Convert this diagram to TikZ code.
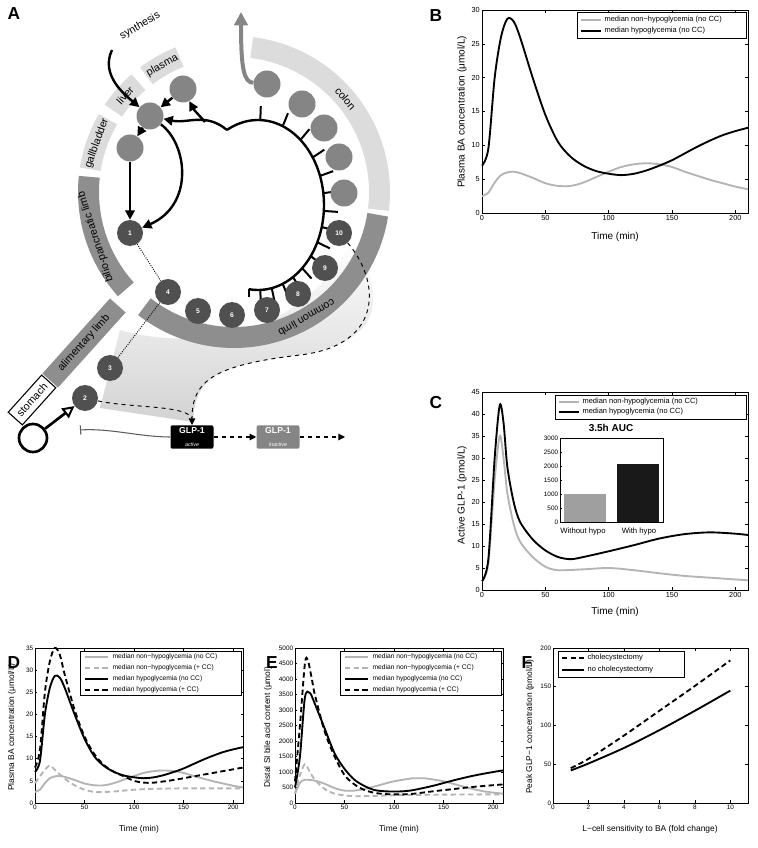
\documentclass[tikz,border=0pt]{standalone}
\usepackage{fontspec}
\setmainfont{Liberation Sans}
\usetikzlibrary{arrows.meta,calc,shapes.geometric}
\definecolor{lg}{HTML}{B4B4B4}
\definecolor{band}{HTML}{8E8E8E}
\definecolor{lband}{HTML}{DCDCDC}
\definecolor{dc}{HTML}{505050}
\definecolor{mc}{HTML}{858585}
\begin{document}
\begin{tikzpicture}[x=0.75pt,y=-0.75pt,
  tick/.style={font=\fontsize{5.5}{6}\selectfont,inner sep=1.5pt},
  stick/.style={font=\fontsize{4.8}{5}\selectfont,inner sep=1.2pt},
  axl/.style={font=\fontsize{7.5}{8}\selectfont},
  saxl/.style={font=\fontsize{6.3}{7}\selectfont},
  leg/.style={font=\fontsize{5.6}{6}\selectfont,anchor=west,inner sep=1pt},
  sleg/.style={font=\fontsize{5}{5.5}\selectfont,anchor=west,inner sep=1pt},
  hyp/.style={line width=1.4pt,black},
  non/.style={line width=1.4pt,lg},
  hypd/.style={line width=1.4pt,black,dash pattern=on 4pt off 2.5pt},
  nond/.style={line width=1.4pt,lg,dash pattern=on 4pt off 2.5pt},
  letter/.style={font=\fontsize{13}{14}\selectfont\bfseries},
  numc/.style={circle,fill=dc,minimum size=26*0.75pt,inner sep=0pt,text=white,font=\fontsize{5}{5}\selectfont\bfseries},
  lc/.style={circle,fill=mc,minimum size=27*0.75pt,inner sep=0pt},
  blk/.style={line width=1.8pt,black,-{Triangle[length=7pt,width=7pt]}},
  tri/.style={draw=none,fill=none,-{Triangle[length=6pt,width=6.5pt]},mc!80!black},
  bandl/.style={font=\fontsize{8}{9}\selectfont}]
\useasboundingbox (0,0) rectangle (757,848);

% ================= Panel A =================
\node[letter] (LA) at (14,14) {A};
% shaded fan
\shade[top color=white,bottom color=gray!35] (100,408) -- (120,330) .. controls (170,345) and (280,350) .. (340,260) -- (355,238) .. controls (385,300) and (385,340) .. (300,355) .. controls (220,365) and (195,375) .. (193,422) -- cycle;
% ring bands
\draw[line width=21*0.75pt,lband] plot[domain=-7:83,samples=60] ({234+145.5*cos(\x)},{192-145.5*sin(\x)});
\draw[line width=21*0.75pt,band] plot[domain=-128:-9,samples=60] ({234+145.5*cos(\x)},{192-145.5*sin(\x)});
\draw[line width=21*0.75pt,band] plot[domain=174:222,samples=30] ({234+145.5*cos(\x)},{192-145.5*sin(\x)});
\draw[line width=21*0.75pt,lband] plot[domain=150:171,samples=20] ({234+145.5*cos(\x)},{192-145.5*sin(\x)});
\draw[line width=21*0.75pt,lband] plot[domain=131:146,samples=20] ({234+145.5*cos(\x)},{192-145.5*sin(\x)});
\draw[line width=21*0.75pt,lband] plot[domain=112:127,samples=20] ({234+145.5*cos(\x)},{192-145.5*sin(\x)});
\node[bandl,rotate=-50] (tcolon) at ({234+145.5*cos(40)},{192-145.5*sin(40)}) {colon};
\node[bandl,rotate=-150] (tcommon) at ({234+145.5*cos(-60)},{192-145.5*sin(-60)}) {common limb};
\node[bandl,rotate=108] (tbilio) at ({234+145.5*cos(198)},{192-145.5*sin(198)}) {bilio-pancreatic limb};
\node[bandl,rotate=70] (tgall) at ({234+145.5*cos(160.5)},{192-145.5*sin(160.5)}) {gallbladder};
\node[bandl,rotate=48] (tliver) at ({234+145.5*cos(138.5)},{192-145.5*sin(138.5)}) {liver};
\node[bandl,rotate=29] (tplasma) at ({234+145.5*cos(119.5)},{192-145.5*sin(119.5)}) {plasma};
% alimentary limb and stomach
\node[bandl,fill=band,rotate=48,minimum width=101*0.75pt,minimum height=21*0.75pt,inner sep=0pt] (alim) at (84,343) {alimentary limb};
\node[bandl,draw=black,line width=0.8pt,fill=white,rotate=48,minimum width=50*0.75pt,minimum height=19*0.75pt,inner sep=0pt] (stom) at (32,400) {stomach};
\node[bandl,rotate=30] (synth) at (140,26) {synthesis};

% absorption loop
\draw[line width=1.8pt] plot[domain=118:-98,samples=80] ({258+66*cos(\x)},{205-85*sin(\x)});
\foreach \a in {88,68,50,34,20,8,-4,-15,-26,-37,-48,-58,-68,-78,-88}
  \draw[line width=1.5pt] ({258+66*cos(\a)},{205-85*sin(\a)}) -- ({258+80*cos(\a)},{205-99*sin(\a)});
\draw[line width=1.8pt] ({258+66*cos(-98)},{205-85*sin(-98)}) -- ++(0,8);

% circles
\node[lc] (hub) at (150,116) {};
\node[lc] (plas) at (183,89) {};
\node[lc] (gall) at (130,148) {};
\node[lc] (c1) at (267,84) {};
\node[lc] (c2) at (302,104) {};
\node[lc] (c3) at (324,128) {};
\node[lc] (c4) at (339,157) {};
\node[lc] (c5) at (344,193) {};
\node[numc] (n1) at (130,233) {1};
\node[numc] (n2) at (85,398) {2};
\node[numc] (n3) at (110,368) {3};
\node[numc] (n4) at (168,292) {4};
\node[numc] (n5) at (198,311) {5};
\node[numc] (n6) at (232,315) {6};
\node[numc] (n7) at (267,310) {7};
\node[numc] (n8) at (298,294) {8};
\node[numc] (n9) at (325,268) {9};
\node[numc] (n10) at (339,233) {10};

% black arrows
\draw[blk] (112,50) .. controls (100,75) and (125,95) .. (hub);
\draw[blk] (plas) -- (hub);
\draw[blk] (hub) -- (gall);
\draw[blk] (gall) -- (n1);
\draw[blk] (hub) .. controls (188,145) and (194,205) .. (n1);
\draw[blk] ({258+66*cos(118)},{205-85*sin(118)}) .. controls (205,112) and (188,124) .. (hub);
\draw[blk] (205,122) .. controls (198,114) and (194,110) .. (plas);

% colon outflow
\draw[line width=3pt,mc,-{Triangle[length=10pt,width=10pt]}] (c1) .. controls (244,82) and (241,70) .. (241,12);

% dotted links
\draw[line width=0.7pt,densely dotted] (n1) -- (n4);
\draw[line width=0.7pt,densely dotted] (n3) -- (n4);
% flow triangles
\foreach \a/\b in {n1/n4,n2/n3,n3/n4,n4/n5,n5/n6,n6/n7,n7/n8,n8/n9,n9/n10,n10/c5,c5/c4,c4/c3,c3/c2,c2/c1}
  \draw[tri] ($(\a)!0.42!(\b)$) -- ($(\a)!0.56!(\b)$);

% GLP-1
\node[fill=black,rounded corners=1.5pt,text=white,align=center,inner sep=1.5pt,minimum width=43*0.75pt,minimum height=22*0.75pt] (glpa) at (192,437) {{\fontsize{6.5}{7}\selectfont\bfseries GLP-1}\\[-2pt]{\fontsize{4}{4}\selectfont\itshape active}};
\node[fill=mc,rounded corners=1.5pt,text=white,align=center,inner sep=1.5pt,minimum width=43*0.75pt,minimum height=22*0.75pt] (glpi) at (278,437) {{\fontsize{6.5}{7}\selectfont\bfseries GLP-1}\\[-2pt]{\fontsize{4}{4}\selectfont\itshape inactive}};
\coordinate (gend) at (345,437);
\draw[line width=0.8pt,dashed,-{Triangle[length=5pt,width=5pt]}] (glpa) -- (glpi);
\draw[line width=0.8pt,dashed,-{Triangle[length=5pt,width=5pt]}] (glpi) -- (gend);
\draw[line width=0.7pt,dashed,-{Triangle[length=5pt,width=5pt]}] (n10) .. controls (380,280) and (385,345) .. (300,355) .. controls (215,365) and (192,380) .. (glpa);
\draw[line width=0.7pt,dashed] (n2) .. controls (130,408) and (185,405) .. (192,418);
% inhibition and stomach symbol
\coordinate (inh) at (80,430);
\draw[line width=0.8pt,mc!70!black,-{Bar[width=7pt]}] (glpa) .. controls (140,437) and (110,428) .. (inh);
\node[circle,draw=black,line width=2pt,minimum size=28*0.75pt] (sto) at (33,438) {};
\draw[line width=2pt,-{Triangle[open,length=9pt,width=9pt,line width=1.5pt]}] (sto) -- (n2);

% ================= Panel B =================
\node[letter] (LB) at (436,16) {B};
\begin{scope}[shift={(482,213)},xscale=1.2667,yscale=-6.767]
 \draw[line width=0.5pt] (0,0) rectangle (210,30);
 \foreach \t in {0,50,...,200} {\draw[line width=0.4pt] (\t,0)--(\t,0.45) (\t,30)--(\t,29.55); \node[tick,anchor=north] at (\t,0) {\t};}
 \foreach \v in {0,5,...,30} {\draw[line width=0.4pt] (0,\v)--(2.4,\v) (210,\v)--(207.6,\v); \node[tick,anchor=east] at (0,\v) {\v};}
 \draw[non] plot[smooth] coordinates {(0,2.5)(5,3)(10,4.5)(15,5.6)(20,6)(25,6.1)(30,5.9)(40,5.2)(50,4.4)(60,4)(70,4)(80,4.5)(90,5.3)(100,6.1)(110,6.8)(120,7.2)(130,7.35)(140,7.2)(150,6.8)(160,6.1)(170,5.5)(180,4.9)(190,4.4)(200,3.9)(210,3.5)};
 \draw[hyp] plot[smooth] coordinates {(0,7)(5,9.5)(10,20)(15,26)(20,28.7)(25,28.3)(30,26)(40,20)(50,14.5)(60,10.5)(70,8.3)(80,7)(90,6.2)(100,5.8)(110,5.6)(120,5.8)(130,6.3)(140,7)(150,7.8)(160,8.8)(170,9.8)(180,10.7)(190,11.5)(200,12.1)(210,12.6)};
\end{scope}
\node[axl,rotate=90] (ylB) at (462,112) {Plasma BA concentration (μmol/L)};
\node[axl] (xlB) at (615,237) {Time (min)};
\draw[line width=0.4pt,fill=white] (577,12) rectangle (746,38);
\draw[non] (581,20) -- (601,20); \node[leg] at (603,20) {median non−hypoglycemia (no CC)};
\draw[hyp] (581,31) -- (601,31); \node[leg] at (603,31) {median hypoglycemia (no CC)};

% ================= Panel C =================
\node[letter] (LC) at (436,403) {C};
\begin{scope}[shift={(482,590)},xscale=1.2667,yscale=-4.4]
 \draw[line width=0.5pt] (0,0) rectangle (210,45);
 \foreach \t in {0,50,...,200} {\draw[line width=0.4pt] (\t,0)--(\t,0.7) (\t,45)--(\t,44.3); \node[tick,anchor=north] at (\t,0) {\t};}
 \foreach \v in {0,5,...,45} {\draw[line width=0.4pt] (0,\v)--(2.4,\v) (210,\v)--(207.6,\v); \node[tick,anchor=east] at (0,\v) {\v};}
 \draw[non] plot[smooth] coordinates {(0,2)(5,6)(10,25)(14,35)(17,30)(20,22)(25,15)(30,11)(40,7.5)(50,5.3)(60,4.5)(80,4.7)(100,5)(120,4.5)(140,3.8)(160,3.2)(180,2.8)(210,2.2)};
 \draw[hyp] plot[smooth] coordinates {(0,2)(5,7)(10,30)(14,42)(17,38)(20,28)(25,20)(30,15.5)(40,11.5)(50,9)(60,7.5)(70,7)(80,7.5)(100,8.8)(120,10.2)(140,11.7)(160,12.7)(180,13.1)(200,12.8)(210,12.5)};
\end{scope}
\node[axl,rotate=90] (ylC) at (462,495) {Active GLP-1 (pmol/L)};
\node[axl] (xlC) at (615,612) {Time (min)};
\draw[line width=0.4pt,fill=white] (555,395) rectangle (746,419);
\draw[non] (559,402) -- (579,402); \node[leg] at (581,402) {median non-hypoglycemia (no CC)};
\draw[hyp] (559,412) -- (579,412); \node[leg] at (581,412) {median hypoglycemia (no CC)};
% inset
\node[font=\fontsize{7.5}{8}\selectfont\bfseries] (auc) at (611,428) {3.5h AUC};
\fill[fill=gray!75] (564,522) rectangle (606,494);
\fill[fill=black!90] (617,522) rectangle (659,464);
\draw[line width=0.4pt] (560,438) rectangle (663,522);
\foreach \v in {0,500,...,3000} {\draw[line width=0.4pt] (560,{522-\v/3000*84}) -- ++(2,0); \node[stick,anchor=east] at (560,{522-\v/3000*84}) {\v};}
\node[font=\fontsize{5.8}{6}\selectfont] (wo) at (583,531) {Without hypo};
\node[font=\fontsize{5.8}{6}\selectfont] (wi) at (639,531) {With hypo};

% ================= Panel D =================
\node[letter] (LD) at (14,663) {D};
\begin{scope}[shift={(35,803)},xscale=0.9905,yscale=-4.43]
 \draw[line width=0.5pt] (0,0) rectangle (210,35);
 \foreach \t in {0,50,...,200} {\draw[line width=0.4pt] (\t,0)--(\t,0.6) (\t,35)--(\t,34.4); \node[stick,anchor=north] at (\t,0) {\t};}
 \foreach \v in {0,5,...,35} {\draw[line width=0.4pt] (0,\v)--(2.5,\v) (210,\v)--(207.5,\v); \node[stick,anchor=east] at (0,\v) {\v};}
 \draw[non] plot[smooth] coordinates {(0,2.5)(5,3)(10,4.5)(15,5.6)(20,6)(25,6.1)(30,5.9)(40,5.2)(50,4.4)(60,4)(70,4)(80,4.5)(90,5.3)(100,6.1)(110,6.8)(120,7.2)(130,7.35)(140,7.2)(150,6.8)(160,6.1)(170,5.5)(180,4.9)(190,4.4)(200,3.9)(210,3.5)};
 \draw[nond] plot[smooth] coordinates {(0,4.5)(5,6)(10,7.5)(15,8.5)(20,7.5)(30,5.5)(40,4)(50,3)(60,2.5)(70,2.5)(80,2.6)(100,3)(120,3.2)(150,3.3)(210,3.3)};
 \draw[hyp] plot[smooth] coordinates {(0,7)(5,9.5)(10,20)(15,26)(20,28.7)(25,28.3)(30,26)(40,20)(50,14.5)(60,10.5)(70,8.3)(80,7)(90,6.2)(100,5.8)(110,5.6)(120,5.8)(130,6.3)(140,7)(150,7.8)(160,8.8)(170,9.8)(180,10.7)(190,11.5)(200,12.1)(210,12.6)};
 \draw[hypd] plot[smooth] coordinates {(0,8)(5,12)(10,25)(15,32)(20,35)(25,33.5)(30,29)(40,21)(50,15)(60,11)(70,8.5)(80,7)(90,6)(100,5)(110,4.6)(120,4.6)(140,5.2)(160,6)(180,6.8)(210,8)};
\end{scope}
\node[saxl,rotate=90] (ylD) at (12,727) {Plasma BA concentration (μmol/L)};
\node[saxl] (xlD) at (139,829) {Time (min)};
\draw[line width=0.4pt,fill=white] (80,651) rectangle (241,695);
\draw[non] (85,657) -- (108,657); \node[sleg] at (111,657) {median non−hypoglycemia (no CC)};
\draw[nond] (85,668) -- (108,668); \node[sleg] at (111,668) {median non−hypoglycemia (+ CC)};
\draw[hyp] (85,679) -- (108,679); \node[sleg] at (111,679) {median hypoglycemia (no CC)};
\draw[hypd] (85,690) -- (108,690); \node[sleg] at (111,690) {median hypoglycemia (+ CC)};

% ================= Panel E =================
\node[letter] (LE) at (272,663) {E};
\begin{scope}[shift={(295,803)},xscale=0.9905,yscale=-0.031]
 \draw[line width=0.5pt] (0,0) rectangle (210,5000);
 \foreach \t in {0,50,...,200} {\draw[line width=0.4pt] (\t,0)--(\t,85) (\t,5000)--(\t,4915); \node[stick,anchor=north] at (\t,0) {\t};}
 \foreach \v in {0,500,...,5000} {\draw[line width=0.4pt] (0,\v)--(2.5,\v) (210,\v)--(207.5,\v); \node[stick,anchor=east] at (0,\v) {\v};}
 \draw[non] plot[smooth] coordinates {(0,300)(5,650)(10,750)(20,720)(30,620)(40,480)(50,400)(60,400)(70,450)(80,530)(100,700)(120,800)(130,800)(150,700)(170,530)(190,380)(210,300)};
 \draw[nond] plot[smooth] coordinates {(0,300)(5,900)(10,1250)(15,1000)(20,750)(30,450)(40,300)(50,250)(60,220)(80,230)(100,250)(150,270)(210,280)};
 \draw[hyp] plot[smooth] coordinates {(0,500)(5,1500)(10,3400)(15,3550)(20,3200)(30,2400)(40,1600)(50,1100)(60,750)(70,550)(80,420)(90,380)(100,370)(110,380)(120,420)(140,560)(160,730)(180,880)(200,1000)(210,1050)};
 \draw[hypd] plot[smooth] coordinates {(0,700)(5,2500)(10,4500)(13,4600)(17,4000)(20,3500)(30,2300)(40,1500)(50,900)(60,600)(70,420)(80,330)(90,290)(100,280)(110,280)(120,300)(140,380)(160,450)(180,520)(210,600)};
\end{scope}
\node[saxl,rotate=90] (ylE) at (268,727) {Distal SI bile acid content (μmol)};
\node[saxl] (xlE) at (399,829) {Time (min)};
\draw[line width=0.4pt,fill=white] (340,651) rectangle (501,695);
\draw[non] (345,657) -- (368,657); \node[sleg] at (371,657) {median non−hypoglycemia (no CC)};
\draw[nond] (345,668) -- (368,668); \node[sleg] at (371,668) {median non−hypoglycemia (+ CC)};
\draw[hyp] (345,679) -- (368,679); \node[sleg] at (371,679) {median hypoglycemia (no CC)};
\draw[hypd] (345,690) -- (368,690); \node[sleg] at (371,690) {median hypoglycemia (+ CC)};

% ================= Panel F =================
\node[letter] (LF) at (527,663) {F};
\begin{scope}[shift={(553,803)},xscale=17.73,yscale=-0.775]
 \draw[line width=0.5pt] (0,0) rectangle (11,200);
 \foreach \t in {0,2,...,10} {\draw[line width=0.4pt] (\t,0)--(\t,3.5) (\t,200)--(\t,196.5); \node[stick,anchor=north] at (\t,0) {\t};}
 \foreach \v in {0,50,...,200} {\draw[line width=0.4pt] (0,\v)--(0.15,\v) (11,\v)--(10.85,\v); \node[stick,anchor=east] at (0,\v) {\v};}
 \draw[hypd] plot[smooth] coordinates {(1,45)(2,57)(4,87)(6,119)(8,151)(10,184)};
 \draw[hyp] plot[smooth] coordinates {(1,42)(2,51)(4,71)(6,94)(8,119)(10,145)};
\end{scope}
\node[saxl,rotate=90] (ylF) at (530,727) {Peak GLP−1 concentration (pmol/L)};
\node[saxl] (xlF) at (650,829) {L−cell sensitivity to BA (fold change)};
\draw[line width=0.4pt,fill=white] (558,651) rectangle (684,677);
\draw[hypd] (562,658) -- (584,658); \node[leg] at (586,658) {cholecystectomy};
\draw[hyp] (562,670) -- (584,670); \node[leg] at (586,670) {no cholecystectomy};
\end{tikzpicture}
\end{document}
